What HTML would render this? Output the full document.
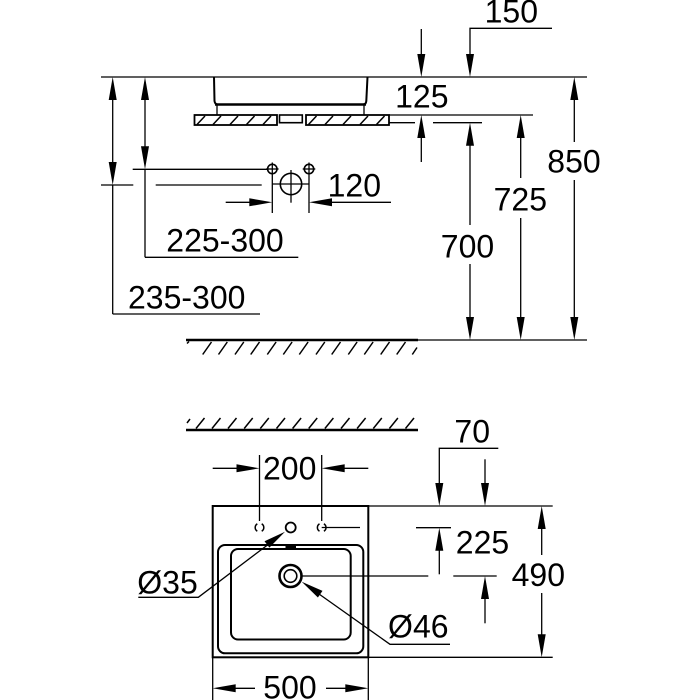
<!DOCTYPE html>
<html><head><meta charset="utf-8"><style>
html,body{margin:0;padding:0;background:#fff;}
svg{display:block;}
text{font-family:"Liberation Sans",Arial,sans-serif;font-size:32px;fill:#000;}
</style></head><body>
<svg width="700" height="700" viewBox="0 0 700 700" xmlns="http://www.w3.org/2000/svg">
<g stroke="#000" stroke-width="1.3" fill="none">
<!-- top view -->
<line x1="101" y1="77" x2="587" y2="77"/>
<path d="M214,77 L214.5,101 Q215,104.5 218,104.5 L363,104.5 Q366,104.5 366.3,101 L367.5,77" stroke-width="2"/>
<line x1="215" y1="104.5" x2="366" y2="104.5" stroke-width="2.5"/>
<line x1="217" y1="105" x2="217" y2="115"/>
<line x1="364" y1="105" x2="364" y2="115"/>
<rect x="194.5" y="115" width="82.5" height="10" stroke-width="1.8"/>
<rect x="279.5" y="115" width="22.8" height="7.7" stroke-width="1.6"/>
<rect x="306" y="115" width="83" height="10" stroke-width="1.8"/>
<g stroke-width="1.5">
<line x1="197" y1="124.5" x2="205" y2="116"/>
<line x1="213" y1="124.5" x2="221" y2="116"/>
<line x1="230" y1="124.5" x2="238" y2="116"/>
<line x1="246.5" y1="124.5" x2="254.5" y2="116"/>
<line x1="263" y1="124.5" x2="271" y2="116"/>
<line x1="308.5" y1="124.5" x2="316.5" y2="116"/>
<line x1="325" y1="124.5" x2="333" y2="116"/>
<line x1="343" y1="124.5" x2="351" y2="116"/>
<line x1="360" y1="124.5" x2="368" y2="116"/>
<line x1="376.5" y1="124.5" x2="384.5" y2="116"/>
</g>
<line x1="389" y1="115" x2="533" y2="115"/>
<line x1="389" y1="122.7" x2="415" y2="122.7"/>
<line x1="433" y1="122.7" x2="482" y2="122.7"/>
<!-- 150 -->
<polyline points="552,28.3 470,28.3 470,55"/>
<!-- 125 -->
<line x1="421.3" y1="29" x2="421.3" y2="55"/>
<line x1="421.3" y1="162" x2="421.3" y2="137"/>
<!-- 850 -->
<line x1="574.3" y1="99" x2="574.3" y2="142"/>
<line x1="574.3" y1="180" x2="574.3" y2="318"/>
<!-- 725 -->
<line x1="520.7" y1="137" x2="520.7" y2="178"/>
<line x1="520.7" y1="218" x2="520.7" y2="318"/>
<!-- 700 -->
<line x1="470" y1="145" x2="470" y2="225"/>
<line x1="470" y1="264" x2="470" y2="318"/>
<!-- floor -->
<line x1="186" y1="340" x2="418" y2="340" stroke-width="2.5"/>
<line x1="418" y1="340" x2="587" y2="340"/>
<g stroke-width="1.5">
<line x1="187" y1="343.5" x2="189" y2="341.5"/>
<line x1="202.7" y1="354.5" x2="211.5" y2="342"/>
<line x1="218.5" y1="354.5" x2="227.3" y2="342"/>
<line x1="235" y1="354.5" x2="243.8" y2="342"/>
<line x1="250.7" y1="354.5" x2="259.5" y2="342"/>
<line x1="267.3" y1="354.5" x2="276.1" y2="342"/>
<line x1="283.3" y1="354.5" x2="292.1" y2="342"/>
<line x1="299.3" y1="354.5" x2="308.1" y2="342"/>
<line x1="316" y1="354.5" x2="324.8" y2="342"/>
<line x1="331.7" y1="354.5" x2="340.5" y2="342"/>
<line x1="348.3" y1="354.5" x2="357.1" y2="342"/>
<line x1="364.3" y1="354.5" x2="373.1" y2="342"/>
<line x1="380.7" y1="354.5" x2="389.5" y2="342"/>
<line x1="396.7" y1="354.5" x2="405.5" y2="342"/>
<line x1="412.3" y1="354.5" x2="417" y2="347.5"/>
</g>
<!-- wall (bottom view) -->
<line x1="186" y1="430" x2="418" y2="430" stroke-width="2.5"/>
<g stroke-width="1.5">
<line x1="187" y1="423" x2="190" y2="419"/>
<line x1="196" y1="428.5" x2="204.5" y2="418"/>
<line x1="212" y1="428.5" x2="220.5" y2="418"/>
<line x1="228" y1="428.5" x2="236.5" y2="418"/>
<line x1="244.2" y1="428.5" x2="252.7" y2="418"/>
<line x1="260.3" y1="428.5" x2="268.8" y2="418"/>
<line x1="276.5" y1="428.5" x2="285" y2="418"/>
<line x1="292.6" y1="428.5" x2="301.1" y2="418"/>
<line x1="308.7" y1="428.5" x2="317.2" y2="418"/>
<line x1="324.9" y1="428.5" x2="333.4" y2="418"/>
<line x1="341" y1="428.5" x2="349.5" y2="418"/>
<line x1="357.1" y1="428.5" x2="365.6" y2="418"/>
<line x1="373.3" y1="428.5" x2="381.8" y2="418"/>
<line x1="389.4" y1="428.5" x2="397.9" y2="418"/>
<line x1="405.5" y1="428.5" x2="414" y2="418"/>
</g>
<!-- left dims -->
<line x1="112.7" y1="99" x2="112.7" y2="163"/>
<line x1="112.7" y1="185" x2="112.7" y2="314"/>
<line x1="112.7" y1="314" x2="260" y2="314"/>
<line x1="101" y1="185" x2="133.3" y2="185"/>
<line x1="145" y1="99" x2="145" y2="147"/>
<line x1="145" y1="169.3" x2="145" y2="257.3"/>
<line x1="145" y1="257.3" x2="298.3" y2="257.3"/>
<line x1="132.7" y1="169.3" x2="267.5" y2="169.3"/>
<line x1="155.7" y1="185" x2="261.7" y2="185"/>
<!-- holes -->
<circle cx="272.3" cy="169" r="4.7" stroke-width="1.6"/>
<circle cx="309" cy="169" r="4.7" stroke-width="1.6"/>
<line x1="266" y1="169" x2="278.6" y2="169"/>
<line x1="302.7" y1="169" x2="315.3" y2="169"/>
<line x1="272.3" y1="162.5" x2="272.3" y2="213"/>
<line x1="309" y1="162.5" x2="309" y2="213"/>
<circle cx="291" cy="184" r="10.7" stroke-width="1.6"/>
<line x1="272.3" y1="184" x2="309" y2="184"/>
<line x1="291" y1="170" x2="291" y2="202.7"/>
<!-- 120 -->
<line x1="225.7" y1="202.3" x2="250" y2="202.3"/>
<line x1="331" y1="202.3" x2="391" y2="202.3"/>

<!-- bottom view -->
<rect x="212.7" y="506" width="155.6" height="151.3" stroke-width="2"/>
<rect x="218" y="545" width="145.3" height="108.3" rx="7" ry="7" stroke-width="2"/>
<rect x="231" y="549" width="119.7" height="90.5" rx="7" ry="7" stroke-width="2"/>
<circle cx="290.7" cy="527.5" r="5" stroke-width="1.8"/>
<path d="M257.3,523.8 A4.3,4.3 0 0 0 257.3,531.2" stroke-width="1.5"/>
<path d="M261.7,523.8 A4.3,4.3 0 0 1 261.7,531.2" stroke-width="1.5"/>
<path d="M319.5,523.8 A4.3,4.3 0 0 0 319.5,531.2" stroke-width="1.5"/>
<path d="M323.9,523.8 A4.3,4.3 0 0 1 323.9,531.2" stroke-width="1.5"/>
<line x1="259.5" y1="455" x2="259.5" y2="521"/>
<line x1="321.7" y1="455" x2="321.7" y2="521"/>
<line x1="321.7" y1="527.5" x2="360" y2="527.5"/>
<!-- 200 -->
<line x1="212.7" y1="468.3" x2="237" y2="468.3"/>
<line x1="344" y1="468.3" x2="368.3" y2="468.3"/>
<!-- Ø35 -->
<polyline points="138.3,597.3 198.3,597.3 268,544.6"/>
<!-- drain -->
<circle cx="290.5" cy="576" r="11" stroke-width="2.6"/>
<circle cx="290.5" cy="576" r="6.3" stroke-width="1.6"/>
<!-- Ø46 -->
<polyline points="319,594 390,644.3 450,644.3"/>
<line x1="302" y1="576" x2="428.3" y2="576"/>
<line x1="453.3" y1="576" x2="496.7" y2="576"/>
<line x1="368" y1="506" x2="552.7" y2="506"/>
<line x1="368" y1="657.3" x2="552.7" y2="657.3"/>
<!-- 490 -->
<line x1="541.7" y1="528" x2="541.7" y2="555"/>
<line x1="541.7" y1="593" x2="541.7" y2="635"/>
<!-- 70 -->
<polyline points="498.3,448.3 439.3,448.3 439.3,484"/>
<line x1="485" y1="459.3" x2="485" y2="484"/>
<!-- 225 -->
<line x1="416" y1="527.7" x2="451" y2="527.7"/>
<line x1="439.3" y1="549" x2="439.3" y2="574.3"/>
<line x1="485" y1="598" x2="485" y2="623.3"/>
<!-- 500 -->
<line x1="212.7" y1="657" x2="212.7" y2="700"/>
<line x1="368.3" y1="657" x2="368.3" y2="700"/>
<line x1="234" y1="688.3" x2="255" y2="688.3"/>
<line x1="326" y1="688.3" x2="346" y2="688.3"/>
</g>
<g fill="#000" stroke="none">
<!-- arrowheads -->
<polygon points="470,77 466,54 474,54"/>
<polygon points="421.3,77 417.3,54 425.3,54"/>
<polygon points="421.3,115 417.3,138 425.3,138"/>
<polygon points="574.3,77 570.3,100 578.3,100"/>
<polygon points="574.3,340 570.3,317 578.3,317"/>
<polygon points="520.7,115 516.7,138 524.7,138"/>
<polygon points="520.7,340 516.7,317 524.7,317"/>
<polygon points="470,122.7 466,145.7 474,145.7"/>
<polygon points="470,340 466,317 474,317"/>
<polygon points="112.7,77 108.7,100 116.7,100"/>
<polygon points="112.7,185 108.7,162 116.7,162"/>
<polygon points="145,77 141,100 149,100"/>
<polygon points="145,169.3 141,146.3 149,146.3"/>
<polygon points="272.3,202.3 249.3,198.3 249.3,206.3"/>
<polygon points="309,202.3 332,198.3 332,206.3"/>
<polygon points="259.5,468.3 236.5,464.3 236.5,472.3"/>
<polygon points="321.7,468.3 344.7,464.3 344.7,472.3"/>
<polygon points="285,531.7 264.5,541.2 269.4,547.6"/>
<polygon points="301.7,581.7 317.9,597.5 322.5,590.9"/>
<polygon points="541.7,506 537.7,529 545.7,529"/>
<polygon points="541.7,657.3 537.7,634.3 545.7,634.3"/>
<polygon points="439.3,506 435.3,483 443.3,483"/>
<polygon points="485,506 481,483 489,483"/>
<polygon points="439.3,527.7 435.3,550.7 443.3,550.7"/>
<polygon points="485,576 481,599 489,599"/>
<polygon points="212.7,688.3 235.7,684.3 235.7,692.3"/>
<polygon points="368.3,688.3 345.3,684.3 345.3,692.3"/>
<rect x="285.5" y="544.5" width="10.5" height="4"/>
</g>
<g text-anchor="middle">
<text x="511.3" y="22.7">150</text>
<text x="421.8" y="107.3">125</text>
<text x="574" y="172.7">850</text>
<text x="520.3" y="210.7">725</text>
<text x="467.5" y="257.3">700</text>
<text x="354.3" y="196.7">120</text>
<text x="225" y="251.7">225-300</text>
<text x="186.7" y="308.3">235-300</text>
<text x="289.7" y="479.3">200</text>
<text x="472.2" y="442.7">70</text>
<text x="482.5" y="553.3">225</text>
<text x="538.3" y="586">490</text>
<text x="167.5" y="593.3">Ø35</text>
<text x="418.3" y="637.7">Ø46</text>
<text x="290" y="698.7">500</text>
</g>
</svg>
</body></html>
